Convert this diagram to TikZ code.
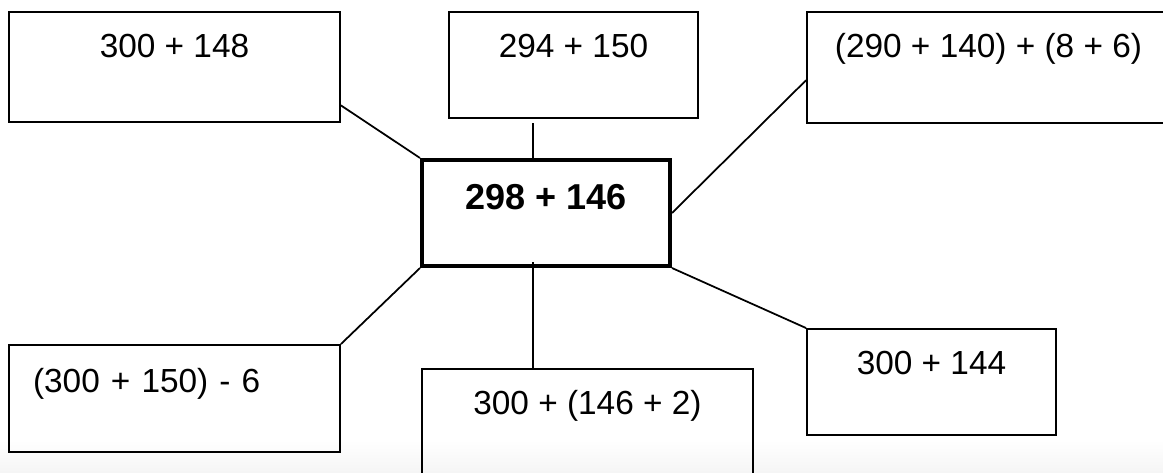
\documentclass[tikz,border=0pt]{standalone}
\usepackage{fontspec}
\setmainfont{Liberation Sans}
\tikzset{
every node/.style={rectangle, draw, line width=1.1pt, inner sep=0pt, font=\fontsize{19}{23}\selectfont},
start/.style={line width=2.3pt, font=\fontsize{20.5}{24}\selectfont\bfseries}
}

\begin{document}
\begin{tikzpicture}[x=0.02cm, y=-0.02cm, line width=1pt]
\useasboundingbox (0,0) rectangle (1163,473);
\clip (0,0) rectangle (1163,473);
\shade[top color=white, bottom color=black!4] (0,440) rectangle (1163,473);

\node [start, minimum width=4.96cm, text height=0.98cm, text depth=1.14cm] (c) at (546,213) {298 + 146};
\node [minimum width=6.62cm, text height=0.9cm, text depth=1.3cm] (tl) at (174.5,67) {300 + 148};
\node [minimum width=4.98cm, text height=0.9cm, text depth=1.22cm] (tm) at (573.5,65) {294 + 150};
\node [minimum width=7.26cm, text height=0.9cm, text depth=1.32cm] (tr) at (988.5,67.5) {(290 + 140) + (8 + 6)};
\node [text width=5.66cm, inner xsep=0.48cm, align=left, text height=0.94cm, text depth=1.2cm] (bl) at (174.5,398.5) {(300 + 150) - 6};
\node [minimum width=6.62cm, text height=0.9cm, text depth=1.32cm] (bm) at (587.5,424.5) {300 + (146 + 2)};
\node [minimum width=4.98cm, text height=0.9cm, text depth=1.22cm] (br) at (931.5,382) {300 + 144};

\draw (tl.-13.6) -- (c.north west);
\draw[shorten >=0.08cm] (c.north) ++(-13,0) coordinate (cn) -- (cn |- tm.south);
\draw (tr.184.6) -- (c.east);
\draw (c.south west) -- (bl.north east);
\draw (c.south) ++(-13,-6) coordinate (cs) -- (cs |- bm.north);
\draw (c.south east) -- (br.north west);
\end{tikzpicture}
\end{document}
